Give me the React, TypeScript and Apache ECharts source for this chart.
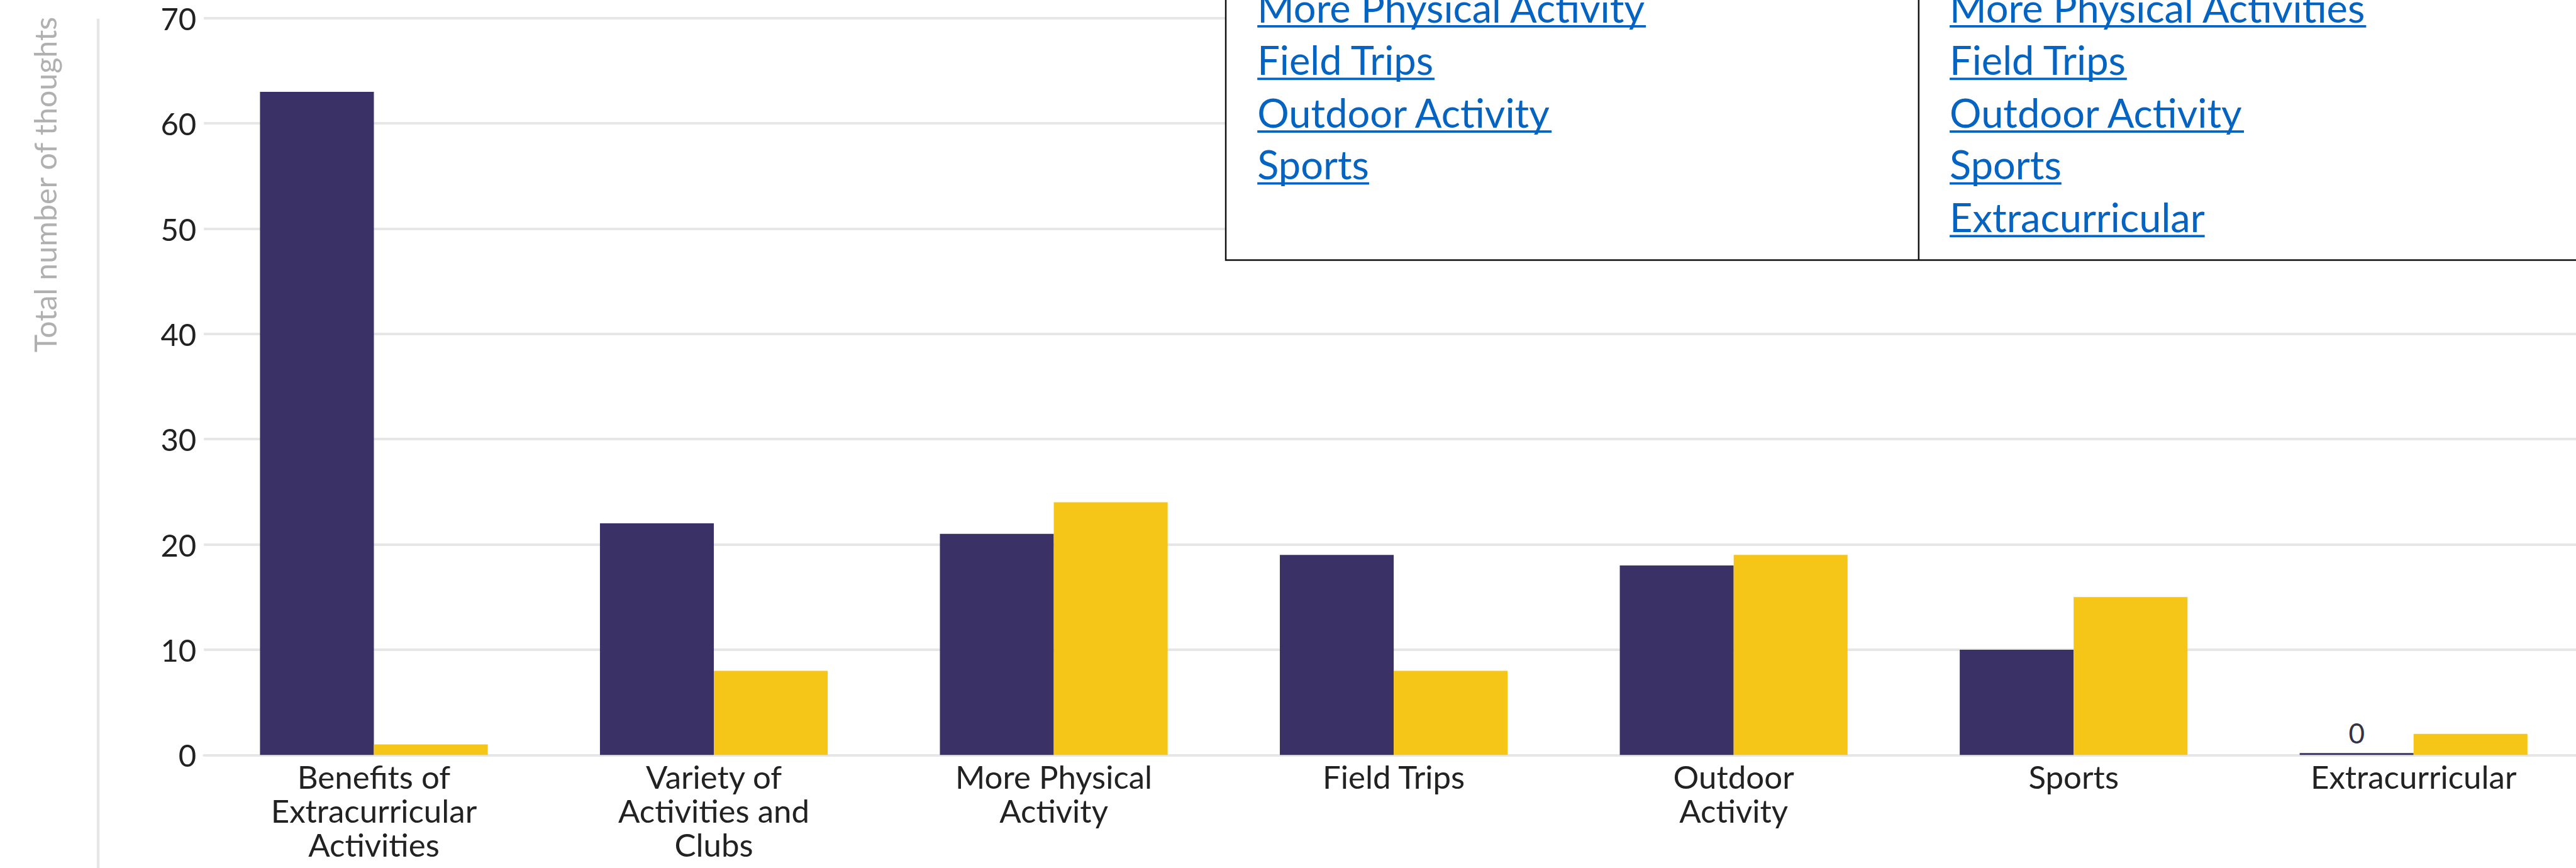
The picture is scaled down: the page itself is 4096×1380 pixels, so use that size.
import React, { useEffect, useRef } from "react";
import * as echarts from "echarts";

const categories = [
  "Benefits of\nExtracurricular\nActivities",
  "Variety of\nActivities and\nClubs",
  "More Physical\nActivity",
  "Field Trips",
  "Outdoor\nActivity",
  "Sports",
  "Extracurricular",
];
const seriesA = [63, 22, 21, 19, 18, 10, 0];
const seriesB = [1, 8, 24, 8, 19, 15, 2];
const yMin = 0;
const yMax = 70;
const yStep = 10;
const yTitle = "Total number of thoughts";
const tableLeft = ["More Physical Activity", "Field Trips", "Outdoor Activity", "Sports"];
const tableRight = ["More Physical Activities", "Field Trips", "Outdoor Activity", "Sports", "Extracurricular"];

const S = 0.929;
const W = 4096;
const H = 1380;
const PURPLE = "#3a3166";
const YELLOW = "#f5c518";
const LINK = "#0563c1";

function measure(text: string, font: string): number {
  const c = document.createElement("canvas").getContext("2d");
  if (!c) return text.length * 30;
  c.font = font;
  return c.measureText(text).width;
}

export default function App() {
  const ref = useRef<HTMLDivElement>(null);
  useEffect(() => {
    if (!ref.current) return;
    const chart = echarts.init(ref.current, undefined, { renderer: "svg" });

    const tFs = 68 * S;
    const tFont = `${tFs}px Lato`;
    const baselines = [35, 125, 215, 304, 394].map((v) => v * S);
    const graphics: any[] = [];
    graphics.push({
      type: "line",
      shape: { x1: 168 * S, y1: 32 * S, x2: 168 * S, y2: H + 5 },
      style: { stroke: "#e6e6e6", lineWidth: 4.5 },
      z: 1,
    });
    graphics.push({
      type: "text",
      x: 76 * S,
      y: 316 * S,
      rotation: Math.PI / 2,
      style: {
        text: yTitle,
        fill: "#b0b0b0",
        font: `normal ${52 * S}px Lato`,
        textAlign: "center",
        textVerticalAlign: "middle",
      },
    });
    graphics.push({
      type: "rect",
      shape: { x: 2098 * S, y: -20, width: W, height: 445 * S + 20 },
      style: { fill: "#ffffff", stroke: "#111111", lineWidth: 2.5 },
      z: 10,
    });
    graphics.push({
      type: "line",
      shape: { x1: 3284 * S, y1: -5, x2: 3284 * S, y2: 445 * S },
      style: { stroke: "#111111", lineWidth: 2.5 },
      z: 11,
    });
    const addCol = (items: string[], x: number) => {
      items.forEach((t, i) => {
        const b = baselines[i];
        graphics.push({
          type: "text",
          x,
          y: b - 0.34 * tFs,
          z: 12,
          style: { text: t, fill: LINK, font: tFont, textAlign: "left", textVerticalAlign: "middle" },
        });
        const w = measure(t, tFont);
        graphics.push({
          type: "rect",
          z: 12,
          shape: { x, y: b + 8 * S, width: w, height: 4 * S },
          style: { fill: LINK },
        });
      });
    };
    addCol(tableLeft, 2152 * S);
    addCol(tableRight, 3337 * S);

    chart.setOption({
      animation: false,
      backgroundColor: "#ffffff",
      grid: {
        left: 349 * S,
        right: -12,
        top: 31 * S,
        bottom: H - 1292 * S,
        outerBoundsMode: "none",
      } as any,
      xAxis: {
        type: "category",
        data: categories,
        axisTick: { show: false },
        axisLine: { show: true, lineStyle: { color: "#e6e6e6", width: 4 } },
        axisLabel: {
          interval: 0,
          color: "#222222",
          fontFamily: "Lato",
          fontSize: 51,
          lineHeight: 54,
          margin: 7,
        },
      },
      yAxis: {
        type: "value",
        min: yMin,
        max: yMax,
        interval: yStep,
        axisLine: { show: false },
        axisTick: { show: false },
        splitLine: { lineStyle: { color: "#e6e6e6", width: 4 } },
        axisLabel: { color: "#222222", fontFamily: "Lato", fontSize: 49, margin: 12 },
      },
      series: [
        {
          name: "Series 1",
          type: "bar",
          data: seriesA.map((v) =>
            v === 0
              ? { value: v, label: { show: true, position: "top", distance: 10, color: "#333344", fontFamily: "Lato", fontSize: 44 } }
              : v
          ),
          barGap: "0%",
          barCategoryGap: "33%",
          barMinHeight: 3,
          itemStyle: { color: PURPLE },
        },
        {
          name: "Series 2",
          type: "bar",
          data: seriesB,
          barGap: "0%",
          barCategoryGap: "33%",
          itemStyle: { color: YELLOW },
        },
      ],
      graphic: graphics,
    });
    return () => chart.dispose();
  }, []);
  return <div ref={ref} style={{ position: "absolute", left: 0, top: 0, width: W, height: H }} />;
}
